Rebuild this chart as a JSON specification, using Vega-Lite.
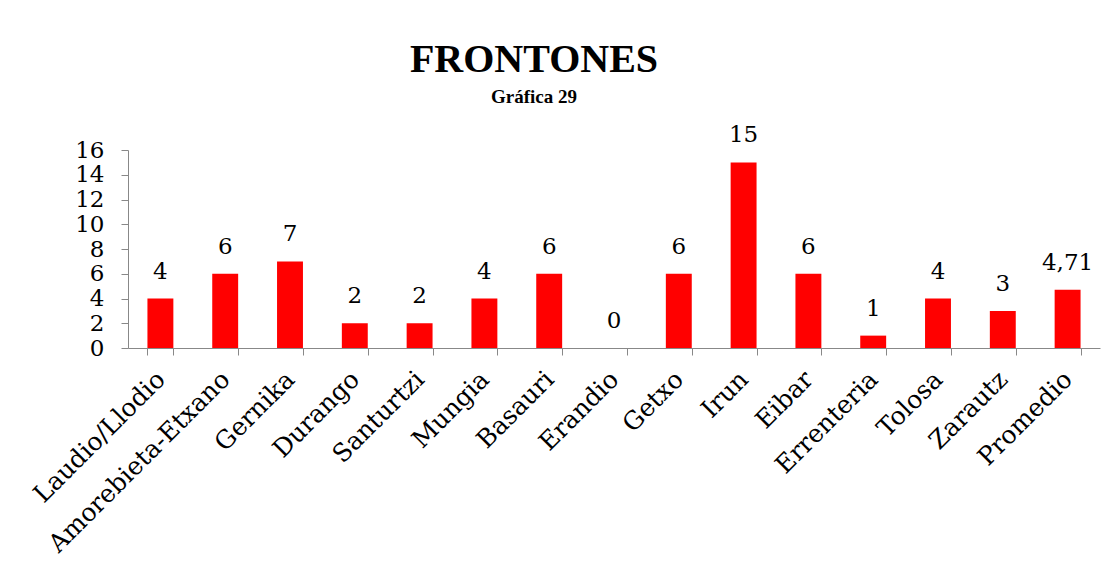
{
  "$schema": "https://vega.github.io/schema/vega-lite/v6.json",
  "width": 972,
  "height": 198,
  "autosize": {"type": "none"},
  "padding": {"left": 128, "top": 150, "right": 13, "bottom": 233},
  "background": "white",
  "title": {
    "text": "FRONTONES",
    "subtitle": "Gráfica 29",
    "anchor": "middle",
    "dx": -80,
    "font": "Liberation Serif",
    "fontSize": 40,
    "fontWeight": "bold",
    "color": "black",
    "subtitleFont": "Liberation Serif",
    "subtitleFontSize": 19,
    "subtitleFontWeight": "bold",
    "subtitleColor": "black",
    "offset": 17,
    "subtitlePadding": 8
  },
  "config": {
    "locale": {"number": {"decimal": ",", "thousands": ".", "grouping": [3], "currency": ["", "€"]}},
    "view": {"stroke": null}
  },
  "data": {
    "values": [
      {"city": "Laudio/Llodio", "value": 4},
      {"city": "Amorebieta-Etxano", "value": 6},
      {"city": "Gernika", "value": 7},
      {"city": "Durango", "value": 2},
      {"city": "Santurtzi", "value": 2},
      {"city": "Mungia", "value": 4},
      {"city": "Basauri", "value": 6},
      {"city": "Erandio", "value": 0},
      {"city": "Getxo", "value": 6},
      {"city": "Irun", "value": 15},
      {"city": "Eibar", "value": 6},
      {"city": "Errenteria", "value": 1},
      {"city": "Tolosa", "value": 4},
      {"city": "Zarautz", "value": 3},
      {"city": "Promedio", "value": 4.71}
    ]
  },
  "encoding": {
    "x": {
      "field": "city",
      "type": "nominal",
      "sort": null,
      "scale": {"paddingInner": 0.6, "paddingOuter": 0.3},
      "axis": {
        "title": null,
        "labelAngle": -45,
        "labelAlign": "right",
        "labelBaseline": "middle",
        "labelFont": "DejaVu Serif",
        "labelFontSize": 25,
        "labelColor": "black",
        "labelPadding": 20,
        "labelLimit": 0,
        "tickBand": "extent",
        "tickSize": 7,
        "tickColor": "#888",
        "domainColor": "#888",
        "labelOverlap": false,
        "labelBound": false
      }
    },
    "y": {
      "field": "value",
      "type": "quantitative",
      "scale": {"domain": [0, 16]},
      "axis": {
        "title": null,
        "values": [0, 2, 4, 6, 8, 10, 12, 14, 16],
        "grid": false,
        "labelFont": "DejaVu Serif",
        "labelFontSize": 23,
        "labelColor": "black",
        "labelPadding": 17,
        "tickSize": 7,
        "tickColor": "#888",
        "domainColor": "#888",
        "labelOverlap": false,
        "labelBound": false
      }
    }
  },
  "layer": [
    {"mark": {"type": "bar", "color": "#ff0000"}},
    {
      "mark": {"type": "text", "baseline": "alphabetic", "dy": -20, "font": "DejaVu Serif", "fontSize": 23, "color": "black"},
      "encoding": {"text": {"field": "value", "type": "quantitative", "format": "~g"}}
    }
  ]
}
